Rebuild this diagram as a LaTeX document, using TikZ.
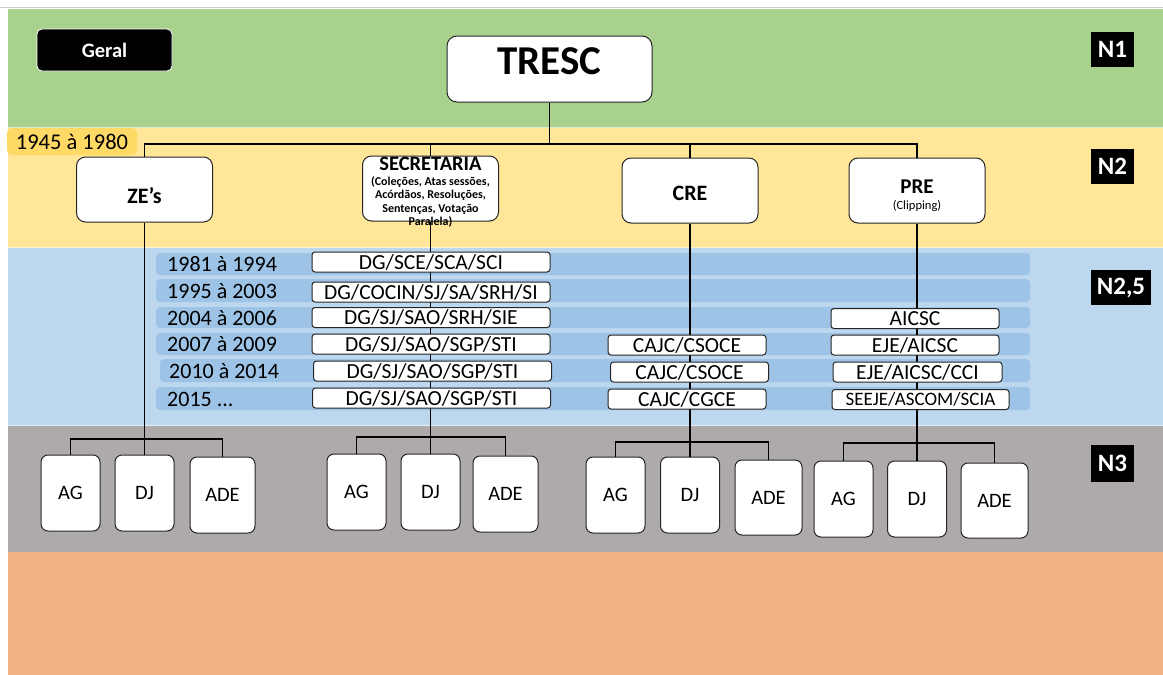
\documentclass[tikz,border=0pt]{standalone}
\usepackage{fontspec}
\setmainfont{Carlito}
\usepackage{tikz}

\definecolor{bandgreen}{HTML}{A9D18E}
\definecolor{bandyellow}{HTML}{FFE699}
\definecolor{tagyellow}{HTML}{FFD966}
\definecolor{bandblue}{HTML}{BDD7EE}
\definecolor{rowblue}{HTML}{9DC3E6}
\definecolor{bandgrey}{HTML}{AEAAAA}
\definecolor{bandorange}{HTML}{F4B183}

\begin{document}
\begin{tikzpicture}[x=1pt,y=-1pt,
  box/.style={draw=black!85,fill=white,line width=1pt,inner sep=0pt},
  unitbox/.style={box,rounded corners=9pt,minimum width=136pt,minimum height=65pt,font=\fontsize{22}{23}\selectfont\bfseries},
  leafbox/.style={box,rounded corners=7pt,minimum width=59pt,minimum height=76pt,font=\fontsize{20.5}{22}\selectfont},
  rowbox/.style={box,rounded corners=3pt,minimum height=20pt,font=\fontsize{21.5}{22}\selectfont},
  rowbar/.style={fill=rowblue,rounded corners=4pt},
  year/.style={anchor=west,inner sep=0pt,font=\fontsize{22}{24}\selectfont},
  levelmark/.style={fill=black,text=white,inner sep=0pt,minimum width=43pt,minimum height=35pt,font=\fontsize{25}{26}\selectfont\bfseries},
  link/.style={line width=1.8pt}]
\useasboundingbox (0,0) rectangle (1163,675);

% bands
\fill[white] (0,0) rectangle (1163,675);
\draw[black!20] (0,7) -- (1163,7);
\fill[bandgreen] (8,9) rectangle (1163,127);
\fill[bandyellow] (8,127) rectangle (1163,247);
\fill[bandblue] (8,247) rectangle (1163,425);
\fill[bandgrey] (8,425) rectangle (1163,552);
\fill[bandorange] (8,552) rectangle (1163,675);
\draw[white!60!bandgreen] (8,127) -- (1163,127);
\draw[white!60!bandyellow] (8,247) -- (1163,247);
\draw[white!60!bandblue] (8,425) -- (1163,425);

% N2,5 rows
\fill[rowbar] (156,253) rectangle (1030,275);
\fill[rowbar] (156,279) rectangle (1030,302);
\fill[rowbar] (156,307) rectangle (1030,328);
\fill[rowbar] (156,333) rectangle (1030,355);
\fill[rowbar] (160,359) rectangle (1030,382);
\fill[rowbar] (156,387) rectangle (1030,410);
\node[year] (y1) at (167,264) {1981 à 1994};
\node[year] (y2) at (167,291) {1995 à 2003};
\node[year] (y3) at (167,318) {2004 à 2006};
\node[year] (y4) at (167,344) {2007 à 2009};
\node[year] (y5) at (169,371) {2010 à 2014};
\node[year] (y6) at (167,399) {2015 ...};

% level marks
\node[levelmark] (n1) at (1112.5,49.5) {N1};
\node[levelmark] (n2) at (1112.5,166) {N2};
\node[levelmark,minimum width=60pt] (n25) at (1121,287.5) {N2,5};
\node[levelmark,minimum height=37pt] (n3) at (1112.5,463.5) {N3};

\node[fill=black,draw=white,line width=0.8pt,rounded corners=5pt,minimum width=135pt,minimum height=42pt,text=white,font=\fontsize{20.5}{22}\selectfont\bfseries] (geral) at (104.5,50) {Geral};
\node[fill=tagyellow,rounded corners=5pt,minimum width=130pt,minimum height=27pt,inner sep=0pt,font=\fontsize{22.5}{24}\selectfont] (era) at (72,141.5) {1945 à 1980};

% N1 and N2
\node[box,rounded corners=10pt,minimum width=205pt,minimum height=66pt,text height=27pt,text depth=16pt,font=\fontsize{41}{42}\selectfont\bfseries] (tresc) at (549.5,69) {TRESC};
\node[unitbox,text height=28pt,text depth=0pt] (ze) at (144.5,189.5) {ZE’s};
\node[unitbox] (sec) at (430.5,188.5) {};
\node[anchor=north,align=center,inner sep=0pt,font=\fontsize{12}{13.5}\selectfont\bfseries] (sectxt) at (430.5,157)
  {{\fontsize{20.5}{20}\selectfont SECRETARIA}\\[1pt] (Coleções, Atas sessões,\\ Acórdãos, Resoluções,\\ Sentenças, Votação\\ Paralela)};
\node[unitbox,text height=20pt,text depth=0pt] (cre) at (690,190.5) {CRE};
\node[unitbox] (pre) at (917,190.5) {};
\node[align=center,inner sep=0pt,font=\fontsize{21}{22}\selectfont\bfseries] (pretxt) at (917,195.5) {PRE\\[-6pt]{\fontsize{12.5}{13}\selectfont\mdseries (Clipping)}};

% N3
\node[leafbox] (zeag) at (70.5,493) {AG};
\node[leafbox] (zedj) at (144.5,493) {DJ};
\node[leafbox,minimum width=65pt] (zeade) at (222.5,495) {ADE};
\node[leafbox] (secag) at (356.5,492) {AG};
\node[leafbox] (secdj) at (430.5,492) {DJ};
\node[leafbox,minimum width=65pt] (secade) at (505.5,494) {ADE};
\node[leafbox] (creag) at (615.5,495) {AG};
\node[leafbox] (credj) at (690,495) {DJ};
\node[leafbox,minimum width=67pt,minimum height=75pt] (creade) at (768.5,497.5) {ADE};
\node[leafbox] (preag) at (843.5,499) {AG};
\node[leafbox] (predj) at (917,499) {DJ};
\node[leafbox,minimum width=67pt,minimum height=75pt] (preade) at (994.5,500.5) {ADE};

% connectors
\coordinate (topbus) at (549.5,144);
\draw[link] (tresc.south) -- (topbus);
\draw[link] (ze.north) |- (topbus) -| (pre.north);
\draw[link] (sec.north) -- (sec.north |- topbus);
\draw[link] (cre.north) -- (cre.north |- topbus);
\coordinate (zebus) at (144.5,439);
\coordinate (secbus) at (430.5,437);
\coordinate (crebus) at (690,442);
\coordinate (prebus) at (917,443);
\draw[link] (ze.south) -- (zedj.north);
\draw[link] (zeag.north) |- (zebus) -| (zeade.north);
\draw[link] (sec.south) -- (secdj.north);
\draw[link] (secag.north) |- (secbus) -| (secade.north);
\draw[link] (cre.south) -- (credj.north);
\draw[link] (creag.north) |- (crebus) -| (creade.north);
\draw[link] (pre.south) -- (predj.north);
\draw[link] (preag.north) |- (prebus) -| (preade.north);

% N2,5 boxes
\node[rowbox,minimum width=238pt] (sec1) at (431,262) {DG/SCE/SCA/SCI};
\node[rowbox,minimum width=238pt] (sec2) at (431,292) {DG/COCIN/SJ/SA/SRH/SI};
\node[rowbox,minimum width=238pt] (sec3) at (431,317.5) {DG/SJ/SAO/SRH/SIE};
\node[rowbox,minimum width=238pt] (sec4) at (431,344) {DG/SJ/SAO/SGP/STI};
\node[rowbox,minimum width=238pt] (sec5) at (432.5,371) {DG/SJ/SAO/SGP/STI};
\node[rowbox,minimum width=238pt] (sec6) at (431.5,398) {DG/SJ/SAO/SGP/STI};
\node[rowbox,minimum width=158pt] (cre4) at (687,345) {CAJC/CSOCE};
\node[rowbox,minimum width=158pt] (cre5) at (689.5,372) {CAJC/CSOCE};
\node[rowbox,minimum width=158pt] (cre6) at (687,399) {CAJC/CGCE};
\node[rowbox,minimum width=168pt] (pre3) at (915,318.5) {AICSC};
\node[rowbox,minimum width=168pt] (pre4) at (915,345) {EJE/AICSC};
\node[rowbox,minimum width=169pt] (pre5) at (917.5,372) {EJE/AICSC/CCI};
\node[rowbox,minimum width=177pt,font=\fontsize{19}{20}\selectfont] (pre6) at (920.5,399.5) {SEEJE/ASCOM/SCIA};
\end{tikzpicture}
\end{document}
